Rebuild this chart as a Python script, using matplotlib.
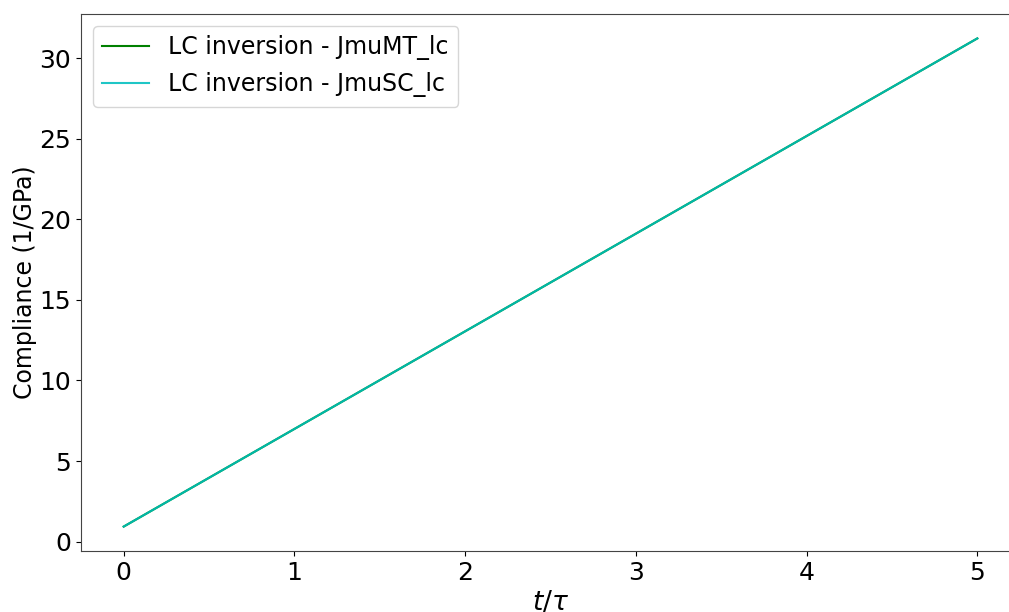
import matplotlib
matplotlib.use("Agg")
import matplotlib.pyplot as plt

t_tau = [0, 1, 2, 3, 4, 5]
jmu_mt = [0.93, 6.99, 13.05, 19.11, 25.17, 31.23]
jmu_sc = [0.93, 6.99, 13.05, 19.11, 25.17, 31.23]
labels = ["LC inversion - JmuMT_lc", "LC inversion - JmuSC_lc"]

fig = plt.figure(figsize=(10.09, 6.12), dpi=100)
ax = fig.add_axes([81/1009, 1-551/612, (1020-81)/1009, (551-14)/612])
ax.plot(t_tau, jmu_mt, color="g", lw=1.5, label=labels[0])
ax.plot(t_tau, jmu_sc, color="c", alpha=0.88, lw=1.5, label=labels[1])
ax.set_xlabel(r"$t/\tau$", fontsize=19)
ax.set_ylabel("Compliance (1/GPa)", fontsize=17, labelpad=2)
ax.tick_params(labelsize=18)
for s in ax.spines.values():
    s.set_color("#444444")
ax.legend(fontsize=17, loc="upper left")
fig.savefig("out.png", dpi=100)
